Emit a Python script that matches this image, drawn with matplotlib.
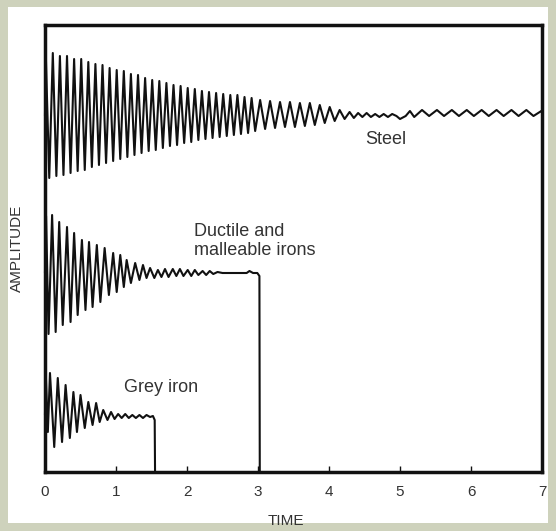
import matplotlib
matplotlib.use("Agg")
import matplotlib.pyplot as plt
from matplotlib.patches import Rectangle

# Extremes of each trace (time, amplitude; amplitude 0 = time axis)
steel_t = [0.00, 0.01, 0.06, 0.11, 0.16, 0.21, 0.26, 0.31, 0.36, 0.41, 0.46,
           0.51, 0.56, 0.61, 0.66, 0.71, 0.76, 0.81, 0.86, 0.91, 0.96,
           1.01, 1.06, 1.11, 1.16, 1.21, 1.26, 1.31, 1.36, 1.41, 1.46,
           1.51, 1.56, 1.61, 1.66, 1.71, 1.76, 1.81, 1.86, 1.91, 1.96,
           2.01, 2.06, 2.11, 2.16, 2.21, 2.26, 2.31, 2.36, 2.41, 2.46,
           2.51, 2.56, 2.61, 2.66, 2.71, 2.76, 2.81, 2.86, 2.91, 2.96,
           3.03, 3.10, 3.17, 3.24, 3.31, 3.38, 3.45, 3.52, 3.59, 3.66,
           3.73, 3.80, 3.87, 3.94, 4.01, 4.08, 4.15, 4.22, 4.29,
           4.35, 4.41, 4.47, 4.53, 4.59, 4.65, 4.71, 4.77, 4.83, 4.89,
           4.95, 5.00, 5.08, 5.14, 5.20,
           5.31, 5.41, 5.52, 5.62, 5.73, 5.83, 5.94, 6.04, 6.15, 6.25,
           6.36, 6.46, 6.57, 6.67, 6.78, 6.88, 6.99, 7.00]
steel_y = [357, 420, 294, 419, 296, 416, 297, 416, 299, 413, 301,
           413, 302, 410, 305, 408, 307, 407, 309, 404, 311,
           402, 313, 401, 315, 398, 317, 397, 319, 394, 321,
           392, 322, 391, 324, 389, 326, 387, 327, 386, 329,
           384, 330, 383, 332, 381, 333, 380, 334, 379, 335,
           378, 336, 377, 337, 377, 338, 375, 339, 374, 341,
           372, 343, 371, 344, 370, 345, 370, 345, 369, 346,
           369, 347, 367, 349, 365, 351, 362, 353, 360,
           354, 359, 355, 359, 355, 358, 355, 358, 355, 358,
           356, 353, 356, 361, 355,
           362, 356, 362, 356, 362, 356, 362, 356, 362, 356,
           362, 356, 362, 356, 362, 356, 361, 359]

ductile_t = [0.00, 0.015, 0.05, 0.10, 0.15, 0.20, 0.25, 0.31, 0.36, 0.41, 0.46,
             0.52, 0.57, 0.62, 0.67, 0.73, 0.78, 0.84, 0.90, 0.96, 1.01,
             1.06, 1.11, 1.15, 1.21, 1.27, 1.33, 1.38, 1.43, 1.48, 1.54,
             1.59, 1.64, 1.69, 1.74, 1.80, 1.85, 1.90, 1.95, 2.01, 2.06,
             2.11, 2.16, 2.22, 2.27, 2.32, 2.37, 2.43, 2.50, 2.70, 2.84,
             2.88, 2.93, 2.99, 3.02, 3.025]
ductile_y = [200, 256, 138, 257, 140, 250, 147, 245, 150, 239, 157,
             232, 162, 230, 165, 227, 170, 224, 177, 219, 180,
             217, 185, 212, 189, 209, 192, 207, 194, 204, 194,
             202, 195, 203, 195, 203, 196, 203, 196, 202, 196,
             202, 197, 201, 197, 201, 198, 200, 199, 199, 199,
             201, 199, 199, 196, 0]

grey_t = [0.00, 0.01, 0.04, 0.07, 0.13, 0.18, 0.24, 0.29, 0.35, 0.40, 0.45,
          0.50, 0.56, 0.61, 0.67, 0.72, 0.77, 0.82, 0.88, 0.93, 0.98,
          1.03, 1.08, 1.13, 1.18, 1.23, 1.28, 1.33, 1.38, 1.43, 1.48,
          1.52, 1.545, 1.55]
grey_y = [58, 100, 40, 99, 25, 94, 30, 87, 34, 80, 40,
          77, 44, 70, 47, 69, 50, 62, 52, 60, 53,
          58, 54, 58, 54, 57, 54, 57, 54, 57, 55,
          56, 52, 0]

time_ticks = [0, 1, 2, 3, 4, 5, 6, 7]

labels = ["Steel", "Ductile and\nmalleable irons", "Grey iron"]
label_pos = [(4.51, 333), (2.10, 231), (1.11, 85)]

BG = "#ced2bc"
INK = "#111111"
TEXT = "#333333"
FONT = ["Liberation Sans", "DejaVu Sans"]


def setup_figure():
    """Create the figure with the grey-green frame and white panel."""
    fig = plt.figure(figsize=(5.56, 5.31), dpi=100)
    fig.patch.set_facecolor(BG)
    W, H = 556, 531
    fig.patches.append(Rectangle((8 / W, (H - 523) / H), 540 / W, 516 / H,
                                 transform=fig.transFigure, facecolor="white",
                                 edgecolor="none", zorder=-5))
    ax = fig.add_axes([45 / W, (H - 472) / H, 497 / W, 447 / H])
    ax.set_facecolor("white")
    ax.set_zorder(1)
    return fig, ax


def draw_traces(ax):
    """Draw the three damping traces."""
    for t, y in [(steel_t, steel_y), (ductile_t, ductile_y), (grey_t, grey_y)]:
        ax.plot(t, y, color=INK, lw=1.5, solid_joinstyle="round", clip_on=False)
    for txt, (x, y) in zip(labels, label_pos):
        ax.text(x, y, txt, fontsize=13, family=FONT, color=TEXT,
                ha="left", va="center", linespacing=1.1)


def style_axes(ax):
    ax.set_xlim(0, 7)
    ax.set_ylim(0, 447)
    for s in ax.spines.values():
        s.set_linewidth(2.5)
        s.set_color(INK)
    ax.set_xticks(time_ticks)
    ax.set_xticklabels([str(v) for v in time_ticks], family=FONT,
                       fontsize=11, color=TEXT)
    ax.tick_params(axis="x", direction="in", length=4, width=1, pad=9,
                   color=INK)
    ax.set_yticks([])
    ax.set_xlabel("TIME", family=FONT, fontsize=11, color=TEXT, va="center")
    ax.set_ylabel("AMPLITUDE", family=FONT, fontsize=11, color=TEXT, va="center")
    ax.xaxis.set_label_coords((286 - 45) / 497, -(521 - 472) / 447)
    ax.yaxis.set_label_coords((17 - 45) / 497, 0.5)


def main():
    fig, ax = setup_figure()
    draw_traces(ax)
    style_axes(ax)
    fig.savefig("out.png", dpi=100, facecolor=BG)


if __name__ == "__main__":
    main()
